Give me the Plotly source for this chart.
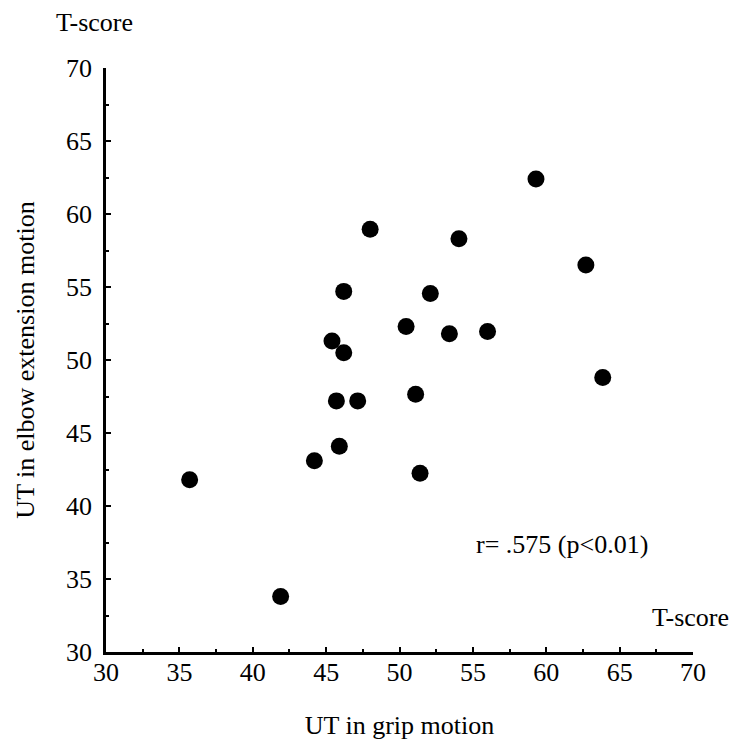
import plotly.graph_objects as go

# UT T-scores per subject
grip_t = [35.7, 41.9, 44.2, 45.9, 51.4, 59.3, 54.05, 62.7, 53.4, 56.0, 63.85,
          48.0, 46.2, 52.1, 50.45, 45.4, 46.2, 45.7, 47.15, 51.1]
elbow_t = [41.8, 33.8, 43.1, 44.1, 42.25, 62.4, 58.3, 56.5, 51.8, 51.95, 48.8,
           58.95, 54.7, 54.55, 52.3, 51.3, 50.5, 47.2, 47.2, 47.65]

tick_vals = [30, 35, 40, 45, 50, 55, 60, 65, 70]
tick_text = [str(v) for v in tick_vals]

FONT = "Liberation Serif, Times New Roman, serif"

fig = go.Figure(
    go.Scatter(
        x=grip_t,
        y=elbow_t,
        mode="markers",
        marker=dict(color="black", size=17, line=dict(width=0)),
        showlegend=False,
    )
)

axis_common = dict(
    range=[30, 70],
    tickmode="array",
    tickvals=tick_vals,
    ticktext=tick_text,
    showline=True,
    linecolor="black",
    linewidth=2.5,
    ticks="inside",
    ticklen=5,
    tickwidth=2,
    tickcolor="black",
    minor=dict(ticks="inside", dtick=2.5, tick0=30, ticklen=3, tickwidth=1.5,
               tickcolor="black", showgrid=False),
    showgrid=False,
    zeroline=False,
    tickfont=dict(family=FONT, size=26, color="black"),
)

fig.update_xaxes(
    **axis_common,
    ticklabelstandoff=-5,
    title=dict(text="UT in grip motion", font=dict(family=FONT, size=26, color="black"),
               standoff=30),
)
fig.update_yaxes(
    **axis_common,
    ticklabelstandoff=6,
    title=dict(text="UT in elbow extension motion",
               font=dict(family=FONT, size=26, color="black"), standoff=24),
)

annot_font = dict(family=FONT, size=26, color="black")
fig.add_annotation(x=94, y=22, xref="paper", yref="paper", text="T-score",
                   showarrow=False, font=annot_font)
fig.add_annotation(x=690, y=617, xref="paper", yref="paper", text="T-score",
                   showarrow=False, font=annot_font)
fig.add_annotation(x=562, y=544, xref="paper", yref="paper", text="r= .575 (p<0.01)",
                   showarrow=False, font=annot_font)

# convert pixel-positioned annotations to paper coordinates
L, R, T, B = 106, 48, 68, 98
W, H = 741, 750
pw, ph = W - L - R, H - T - B
for a in fig.layout.annotations:
    a.x = (a.x - L) / pw
    a.y = 1 - (a.y - T) / ph
    a.xanchor = "center"
    a.yanchor = "middle"

fig.update_layout(
    width=W,
    height=H,
    margin=dict(l=L, r=R, t=T, b=B),
    paper_bgcolor="white",
    plot_bgcolor="white",
    font=dict(family=FONT, color="black"),
)

fig.write_html("out.html")
